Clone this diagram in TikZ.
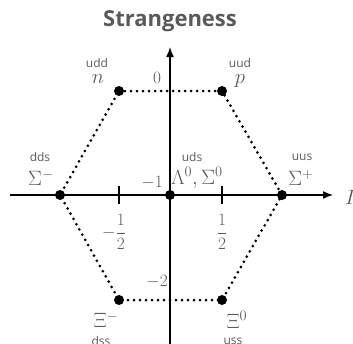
\documentclass[tikz,border=0pt]{standalone}
\usepackage{fontspec}
\newfontfamily\labfont{Open Sans}
\usetikzlibrary{arrows.meta}
\definecolor{txt}{HTML}{5A5A5A}
\tikzset{
  pt/.style={circle,fill=black,inner sep=0pt,minimum size=10pt},
  quark/.style={font=\labfont\fontsize{12}{14}\selectfont,text=txt,inner sep=0pt},
  mlab/.style={font=\fontsize{21}{24}\selectfont,text=txt,inner sep=0pt},
  nlab/.style={font=\fontsize{18}{20}\selectfont,text=txt,inner sep=0pt},
  edge/.style={line width=3pt,dash pattern=on 0pt off 6pt,line cap=round},
  axis/.style={line width=1.4pt,-{Latex[length=10pt,width=8pt]}}
}
\begin{document}
\begin{tikzpicture}[x=1pt,y=-1pt]
\useasboundingbox (0,0) rectangle (353,343);
% axes
\coordinate (xl) at (10,195);
\coordinate (xr) at (333,195);
\coordinate (yb) at (170,345);
\coordinate (yt) at (170,47);
% points
\node[pt] (n) at (119,91) {};
\node[pt] (p) at (222,91) {};
\node[pt] (sm) at (60,195) {};
\node[pt] (sp) at (282,195) {};
\node[pt] (c) at (170,195) {};
\node[pt] (xm) at (119,300) {};
\node[pt] (x0) at (222,300) {};
\draw[edge] (n.center) -- (p.center) -- (sp.center) -- (x0.center) -- (xm.center) -- (sm.center) -- cycle;
\draw[axis] (xl) -- (xr);
\draw[axis] (yb) -- (yt);
% ticks
\coordinate (t1) at (119,195);
\coordinate (t2) at (222,195);
\draw[line width=1.8pt] ([yshift=-9pt]t1) -- ([yshift=9pt]t1);
\draw[line width=1.8pt] ([yshift=-9pt]t2) -- ([yshift=9pt]t2);
% title
\node[font=\labfont\bfseries\fontsize{22}{24}\selectfont,text=txt,inner sep=0pt] (title) at (170,21) {Strangeness};
% strangeness values
\node[nlab] (s0) at (157,78) {$0$};
\node[nlab] (s1) at (152,183) {$-1$};
\node[nlab] (s2) at (157,282) {$-2$};
% fractions
\node[nlab] (fm) at (114,232) {$\displaystyle -\frac{1}{2}$};
\node[nlab] (fp) at (222,232) {$\displaystyle \frac{1}{2}$};
% particle labels
\node[quark] (qn) at (97,63) {udd};
\node[mlab] (ln) at (98,79) {$n$};
\node[quark] (qp) at (240,63) {uud};
\node[mlab] (lp) at (240,81) {$p$};
\node[quark] (qsm) at (40,157) {dds};
\node[mlab] (lsm) at (41,178) {$\Sigma^-$};
\node[quark] (qc) at (192,157) {uds};
\node[mlab] (lc) at (197,178) {$\Lambda^0,\Sigma^0$};
\node[quark] (qsp) at (302,157) {uus};
\node[mlab] (lsp) at (301,178) {$\Sigma^+$};
\node[mlab,anchor=west] (li) at (345,199) {$I_3$};
\node[mlab] (lxm) at (106,320) {$\Xi^-$};
\node[quark] (qxm) at (101,341) {dss};
\node[mlab] (lx0) at (237,320) {$\Xi^0$};
\node[quark] (qx0) at (233,341) {uss};
\end{tikzpicture}
\end{document}
